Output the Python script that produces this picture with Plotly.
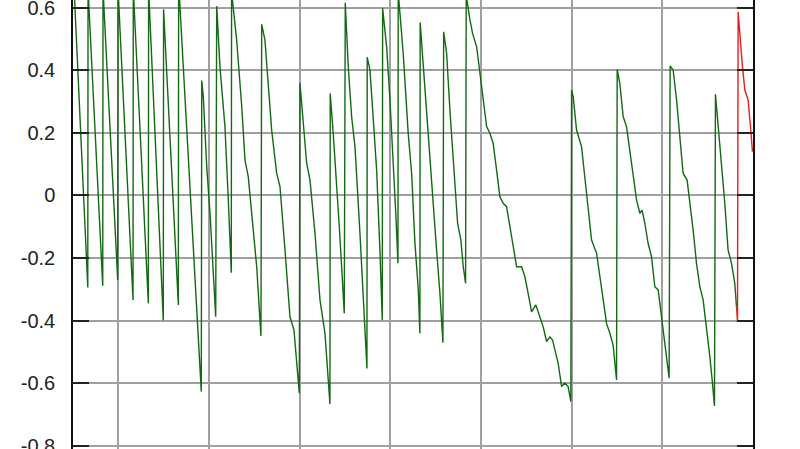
import plotly.graph_objects as go

# Green series (x in grid units, y values)
green_x = (
    [-0.494, -0.337, -0.334, -0.172, -0.169, -0.007, -0.003, 0.162, 0.165, 0.331, 0.334, 0.496, 0.499, 0.662, 0.665, 0.915]
    + [0.920, 0.937, 0.975, 1.011, 1.074]
    + [1.085, 1.121, 1.176, 1.213, 1.246]
    + [1.249, 1.305, 1.361, 1.397, 1.433, 1.471, 1.526, 1.573]
    + [1.581, 1.617, 1.691, 1.746, 1.783, 1.838, 1.893, 1.937, 1.996]
    + [2.003, 2.040, 2.077, 2.114, 2.169, 2.224, 2.279, 2.334]
    + [2.337, 2.370, 2.408, 2.437, 2.463, 2.492]
    + [2.503, 2.536, 2.573, 2.610, 2.665, 2.701, 2.742]
    + [2.745, 2.775, 2.805, 2.849, 2.885, 2.911]
    + [2.915, 2.959, 2.996, 3.032, 3.062, 3.084]
    + [3.087, 3.142, 3.197, 3.235, 3.271, 3.308, 3.326]
    + [3.329, 3.363, 3.400, 3.437, 3.473, 3.510, 3.547, 3.580]
    + [3.588, 3.621, 3.657, 3.693, 3.723, 3.742, 3.778, 3.804, 3.830]
    + [3.837, 3.878, 3.907, 3.952, 3.988, 4.024, 4.062, 4.098, 4.134, 4.172, 4.208, 4.245, 4.282, 4.319, 4.355, 4.393,
       4.448, 4.484, 4.520, 4.558, 4.605, 4.649, 4.686, 4.723, 4.760, 4.789, 4.815, 4.851, 4.889, 4.925, 4.961, 4.991]
    + [4.999, 5.017, 5.054, 5.109, 5.164, 5.219, 5.275, 5.330, 5.385, 5.421, 5.458, 5.495]
    + [5.502, 5.531, 5.568, 5.605, 5.642, 5.678, 5.716, 5.752, 5.777, 5.807, 5.843, 5.881, 5.917, 5.954, 5.991, 6.027, 6.075]
    + [6.086, 6.119, 6.157, 6.193, 6.229, 6.273, 6.303, 6.340, 6.377, 6.414, 6.450, 6.487, 6.524, 6.553, 6.575]
    + [6.586, 6.615, 6.653, 6.689, 6.725, 6.763, 6.799, 6.818]
)
green_y = (
    [0.70, -0.294, 0.66, -0.289, 0.66, -0.270, 0.66, -0.334, 0.66, -0.345, 0.66, -0.400, 0.595, -0.350, 0.68, -0.627]
    + [0.367, 0.316, 0.092, -0.057, -0.388]
    + [0.605, 0.411, 0.220, -0.015, -0.247]
    + [0.65, 0.497, 0.284, 0.113, 0.060, -0.057, -0.228, -0.449]
    + [0.547, 0.497, 0.209, 0.071, 0.028, -0.174, -0.388, -0.430, -0.632]
    + [0.360, 0.231, 0.103, 0.049, -0.121, -0.334, -0.441, -0.667]
    + [0.326, 0.199, 0.039, -0.100, -0.228, -0.377]
    + [0.616, 0.411, 0.252, 0.156, -0.121, -0.334, -0.553]
    + [0.442, 0.401, 0.273, 0.081, -0.174, -0.398]
    + [0.598, 0.475, 0.305, 0.113, -0.068, -0.217]
    + [0.65, 0.454, 0.199, 0.071, -0.150, -0.300, -0.441]
    + [0.553, 0.411, 0.252, 0.113, -0.036, -0.174, -0.313, -0.471]
    + [0.523, 0.454, 0.273, 0.113, -0.025, -0.089, -0.142, -0.228, -0.281]
    + [0.640, 0.561, 0.518, 0.475, 0.390, 0.305, 0.220, 0.199, 0.167, 0.081, -0.004, -0.025, -0.036, -0.100, -0.164, -0.228,
       -0.228, -0.260, -0.313, -0.372, -0.350, -0.388, -0.420, -0.467, -0.452, -0.462, -0.494, -0.537, -0.611, -0.600, -0.611, -0.659]
    + [0.337, 0.316, 0.209, 0.156, 0.007, -0.142, -0.185, -0.292, -0.410, -0.440, -0.480, -0.590]
    + [0.403, 0.358, 0.252, 0.220, 0.145, 0.071, -0.015, -0.057, -0.047, -0.089, -0.153, -0.196, -0.292, -0.302, -0.388, -0.473, -0.584]
    + [0.414, 0.401, 0.305, 0.199, 0.071, 0.049, -0.015, -0.111, -0.217, -0.292, -0.334, -0.420, -0.515, -0.600, -0.673]
    + [0.323, 0.231, 0.103, -0.025, -0.174, -0.217, -0.281, -0.356]
)

# Red series (last segment)
red_x = [6.818, 6.829, 6.836, 6.854, 6.884, 6.910, 6.946, 6.972, 6.994]
red_y = [-0.356, -0.404, 0.587, 0.518, 0.411, 0.337, 0.305, 0.220, 0.140]

y_ticks = [-0.8, -0.6, -0.4, -0.2, 0.0, 0.2, 0.4, 0.6]
y_tick_labels = ["-0.8", "-0.6", "-0.4", "-0.2", "0", "0.2", "0.4", "0.6"]
x_ticks = [0, 1, 2, 3, 4, 5, 6, 7]

assert len(green_x) == len(green_y)
assert len(red_x) == len(red_y)

fig = go.Figure()
fig.add_trace(go.Scatter(x=green_x, y=green_y, mode="lines",
                         line=dict(color="rgb(20,105,20)", width=1.4), hoverinfo="skip"))
fig.add_trace(go.Scatter(x=red_x, y=red_y, mode="lines",
                         line=dict(color="rgb(232,30,30)", width=1.4), hoverinfo="skip"))

fig.update_layout(
    width=800, height=449,
    margin=dict(l=73, r=47, t=0, b=0, pad=0),
    paper_bgcolor="white", plot_bgcolor="white",
    showlegend=False,
    xaxis=dict(range=[-0.5, 7.0], tickvals=x_ticks, showticklabels=False,
               showgrid=True, gridcolor="#a0a0a0", gridwidth=1.5, automargin=False,
               zeroline=False, showline=False, ticks=""),
    yaxis=dict(range=[-0.8105, 0.6246], tickvals=y_ticks, ticktext=y_tick_labels,
               showgrid=True, gridcolor="#a0a0a0", gridwidth=1.5, zeroline=False,
               showline=True, linecolor="#111", linewidth=1.5, mirror="ticks",
               ticks="inside", ticklen=16, tickwidth=2, tickcolor="#222",
               ticklabelstandoff=12, automargin=False, ticklabeloverflow="allow",
               tickfont=dict(family="Liberation Sans, Arial, sans-serif", size=20, color="#222")),
)

fig.write_html("out.html", config={"displayModeBar": False},
               post_script="document.body.style.margin='0';document.body.style.overflow='hidden';")
